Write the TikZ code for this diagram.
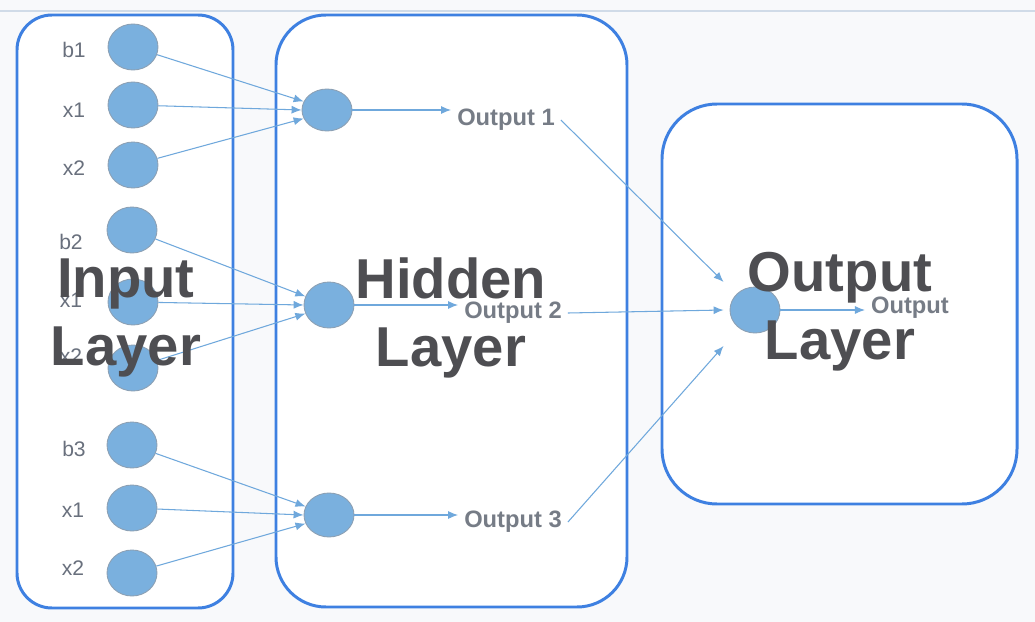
\documentclass[tikz,border=0pt]{standalone}
\usepackage{fontspec}
\setmainfont{Liberation Sans}
\usetikzlibrary{shapes.geometric,arrows.meta,calc}

\definecolor{boxblue}{RGB}{62,128,225}
\definecolor{nodeblue}{RGB}{122,176,222}
\definecolor{nodeedge}{RGB}{140,160,180}
\definecolor{linkblue}{RGB}{111,168,220}
\definecolor{labelgray}{RGB}{105,112,125}
\definecolor{outgray}{RGB}{118,124,134}
\definecolor{titlegray}{RGB}{78,78,82}
\definecolor{bggray}{RGB}{248,249,251}
\definecolor{topline}{RGB}{208,219,232}

\tikzset{
  layerbox/.style={draw=boxblue, line width=1.7pt, fill=white},
  neuron/.style={ellipse, fill=nodeblue, draw=nodeedge, line width=0.5pt, minimum width=1cm, minimum height=0.92cm, inner sep=0pt},
  link/.style={draw=linkblue, line width=0.6pt, -{Latex[length=2mm,width=1.6mm]}},
  varlabel/.style={text=labelgray, font=\fontsize{12}{14}\selectfont},
  outlabel/.style={text=outgray, font=\bfseries\fontsize{13.5}{16}\selectfont},
  layertitle/.style={text=titlegray, font=\bfseries\fontsize{32}{38.7}\selectfont, align=center}
}

\begin{document}
\begin{tikzpicture}[x=0.02cm, y=-0.02cm]

\fill[bggray] (0,0) rectangle (1035,622) ;
\useasboundingbox (0,0) rectangle (1035,622) ;
\draw[topline, line width=1pt] (0,11) -- (1035,11) ;

\draw[layerbox, rounded corners=0.7cm] (17,15) rectangle (233,608) ;
\draw[layerbox, rounded corners=1cm] (276,15) rectangle (627,607) ;
\draw[layerbox, rounded corners=1.1cm] (662,104) rectangle (1017,504) ;

\node[varlabel] (l1) at (74,50) {b1} ;
\node[varlabel] (l2) at (74,110) {x1} ;
\node[varlabel] (l3) at (74,168) {x2} ;
\node[varlabel] (l4) at (71,242) {b2} ;
\node[varlabel] (l5) at (71,300) {x1} ;
\node[varlabel] (l6) at (71,356) {x2} ;
\node[varlabel] (l7) at (74,449) {b3} ;
\node[varlabel] (l8) at (73,510) {x1} ;
\node[varlabel] (l9) at (73,568) {x2} ;

\node[neuron] (i1) at (133,47) {} ;
\node[neuron] (i2) at (133,105) {} ;
\node[neuron] (i3) at (133,165) {} ;
\node[neuron] (i4) at (132,230) {} ;
\node[neuron] (i5) at (133,302) {} ;
\node[neuron] (i6) at (133,368) {} ;
\node[neuron] (i7) at (132,445) {} ;
\node[neuron] (i8) at (132,508) {} ;
\node[neuron] (i9) at (132,573) {} ;

\node[neuron, minimum height=0.84cm] (h1) at (327,110) {} ;
\node[neuron] (h2) at (329,305) {} ;
\node[neuron, minimum height=0.88cm] (h3) at (329,515) {} ;

\node[neuron] (out) at (755,310) {} ;

\node[outlabel] (o1) at (506,120) {Output 1} ;
\node[outlabel] (o2) at (513,313) {Output 2} ;
\node[outlabel] (o3) at (513,522) {Output 3} ;
\node[outlabel] (fin) at (910,308) {Output} ;

\draw[link] (i1) -- (h1.160) ;
\draw[link] (i2) -- (h1.180) ;
\draw[link] (i3) -- (h1.200) ;
\draw[link] (i4) -- (h2.160) ;
\draw[link] (i5) -- (h2.180) ;
\draw[link] (i6) -- (h2.200) ;
\draw[link] (i7) -- (h3.160) ;
\draw[link] (i8) -- (h3.180) ;
\draw[link] (i9) -- (h3.200) ;

\draw[link] (h1) -- (h1 -| o1.west) ;
\draw[link] (h2) -- (h2 -| o2.west) ;
\draw[link] (h3) -- (h3 -| o3.west) ;

\draw[link] (o1.east) -- ($(out.west)+(-6,-28)$) ;
\draw[link] (o2.east) -- ($(out.west)+(-6,0)$) ;
\draw[link] (o3.east) -- ($(out.west)+(-6,36)$) ;
\draw[link] (out) -- (out -| fin.west) ;

\node[layertitle] (tin) at (126,318) {Input\\Layer} ;
\node[layertitle] (thid) at (451,318) {Hidden\\Layer} ;
\node[layertitle] (tout) at (840,312) {Output\\Layer} ;

\end{tikzpicture}
\end{document}
